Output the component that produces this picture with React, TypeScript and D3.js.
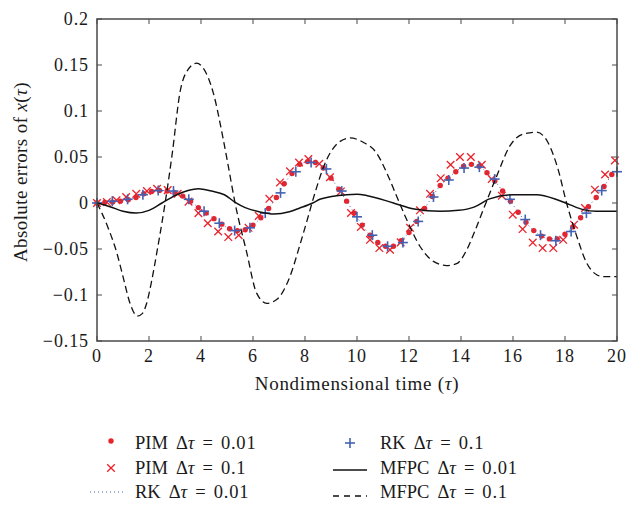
import React from "react";
import * as d3 from "d3";

// ---- axis ticks ----
const xTicks = [0, 2, 4, 6, 8, 10, 12, 14, 16, 18, 20];
const yTicks = [-0.15, -0.1, -0.05, 0, 0.05, 0.1, 0.15, 0.2];
const yTickLabels = ["\u22120.15", "\u22120.1", "\u22120.05", "0", "0.05", "0.1", "0.15", "0.2"];

// ---- PIM Δτ = 0.01 (dots), sampled every 0.3 ----
const pimFineStep = 0.3;
const pimFine = [
  0, 0.0005, 0.001, 0.002, 0.0035, 0.006, 0.01, 0.0125, 0.0137, 0.013,
  0.011, 0.0075, 0.002, -0.005, -0.011, -0.017, -0.023, -0.028, -0.03, -0.029,
  -0.024, -0.016, -0.006, 0.006, 0.021, 0.032, 0.042, 0.045, 0.044, 0.038,
  0.027, 0.015, 0.002, -0.011, -0.024, -0.035, -0.043, -0.047, -0.047, -0.041,
  -0.032, -0.02, -0.006, 0.007, 0.019, 0.027, 0.034, 0.04, 0.042, 0.04,
  0.033, 0.024, 0.013, 0.002, -0.01, -0.021, -0.03, -0.036, -0.039, -0.039,
  -0.034, -0.026, -0.016, -0.004, 0.006, 0.018, 0.031,
];

// ---- RK Δτ = 0.01 (dotted line) coincides with the fine solution ----
const rkFine = pimFine;

// ---- PIM Δτ = 0.1 (crosses) ----
const pimCoarseTau = [
  0, 0.38, 0.75, 1.12, 1.51, 1.92, 2.31, 2.72, 3.1, 3.52, 3.9, 4.26, 4.66, 5.05, 5.45,
  5.83, 6.22, 6.63, 7.04, 7.42, 7.77, 8.13, 8.55, 8.96, 9.38, 9.77, 10.15, 10.5,
  10.86, 11.27, 11.68, 12.04, 12.42, 12.81, 13.22, 13.6, 13.96, 14.38, 14.8, 15.18,
  15.57, 15.99, 16.37, 16.76, 17.14, 17.55, 17.93, 18.35, 18.77, 19.15, 19.54, 19.92,
];
const pimCoarse = [
  0, 0.001, 0.003, 0.0065, 0.01, 0.013, 0.0155, 0.014, 0.01, 0.0015, -0.011, -0.022,
  -0.031, -0.037, -0.035, -0.027, -0.014, 0.0045, 0.0224, 0.0344, 0.044, 0.0478,
  0.0427, 0.028, 0.0126, -0.0109, -0.026, -0.04, -0.049, -0.0508, -0.0428, -0.027,
  -0.008, 0.01, 0.027, 0.0416, 0.05, 0.05, 0.0416, 0.026, 0.008, -0.0127, -0.0283,
  -0.043, -0.049, -0.049, -0.04, -0.0236, -0.0054, 0.0145, 0.031, 0.0463,
];

// ---- RK Δτ = 0.1 (plus markers), 35 markers over [0, 20] ----
const rkCoarseStep = 20 / 34;
const rkCoarse = [
  0, 0.002, 0.004, 0.009, 0.0135, 0.013, 0.004, -0.009, -0.022, -0.03, -0.027, -0.011,
  0.011, 0.034, 0.044, 0.037, 0.013, -0.015, -0.035, -0.047, -0.043, -0.02, 0.0065,
  0.025, 0.038, 0.039, 0.026, 0.004, -0.018, -0.035, -0.041, -0.031, -0.011, 0.0135,
  0.034,
];

// ---- MFPC Δτ = 0.01 (solid) ----
const mfpcFineTau = [
  0, 0.5, 1, 1.5, 2, 2.5, 3, 3.5, 3.9, 4.4, 4.9, 5.3, 5.7, 6.3, 6.8, 7.4, 7.8, 8.3,
  8.6, 9.6, 10, 10.4, 11.4, 12.2, 13.2, 13.9, 14.5, 15.1, 16, 16.9, 17.7, 18.2, 18.7,
  19.2, 20,
];
const mfpcFine = [
  0, -0.004, -0.009, -0.011, -0.008, 0, 0.008, 0.0135, 0.0155, 0.013, 0.009, 0.001,
  -0.005, -0.01, -0.012, -0.0095, -0.0055, 0, 0.0043, 0.009, 0.0095, 0.008, 0,
  -0.0065, -0.009, -0.008, -0.0045, 0.0045, 0.009, 0.009, 0.0036, -0.002, -0.0072,
  -0.009, -0.009,
];

// ---- MFPC Δτ = 0.1 (dashed) ----
const mfpcCoarseTau = [
  0, 0.4, 0.76, 1, 1.27, 1.55, 1.75, 1.91, 2.1, 2.3, 2.62, 2.9, 3.19, 3.5, 3.83, 4.1,
  4.47, 4.85, 5.05, 5.31, 5.76, 6.14, 6.53, 6.91, 7.42, 7.81, 8.07, 8.32, 8.83, 9.35,
  9.73, 10.24, 10.76, 11.14, 11.53, 11.91, 12.42, 12.94, 13.45, 13.83, 14.22, 14.54,
  14.86, 15.37, 15.88, 16.4, 16.91, 17.36, 17.74, 18.06, 18.45, 18.83, 19.22, 19.47, 20,
];
const mfpcCoarse = [
  0, -0.025, -0.054, -0.08, -0.109, -0.123, -0.12, -0.109, -0.085, -0.054, 0, 0.055,
  0.12, 0.145, 0.152, 0.146, 0.12, 0.07, 0.04, 0, -0.054, -0.098, -0.109, -0.105,
  -0.08, -0.045, -0.02, 0.005, 0.047, 0.067, 0.0707, 0.066, 0.054, 0.033, 0.007,
  -0.018, -0.047, -0.0635, -0.068, -0.066, -0.051, -0.03, -0.007, 0.029, 0.062,
  0.075, 0.077, 0.065, 0.036, 0, -0.036, -0.065, -0.078, -0.08, -0.08,
];

// ---- legend ----
const legendMethods = ["PIM", "PIM", "RK", "RK", "MFPC", "MFPC"];
const legendSteps = ["0.01", "0.1", "0.01", "0.1", "0.01", "0.1"];

const RED = "#e8232b";
const BLUE = "#4362b3";
const INK = "#1a1a1a";
const FONT = "'Liberation Serif', 'Times New Roman', serif";

const W = 628;
const H = 505;
const M = { left: 97, right: 617, top: 19, bottom: 341 };

function Tau() {
  return <tspan fontStyle="italic">τ</tspan>;
}

function Cross({ cx, cy, s }: { cx: number; cy: number; s: number }) {
  return (
    <g stroke={RED} strokeWidth={1.3}>
      <line x1={cx - s} y1={cy - s} x2={cx + s} y2={cy + s} />
      <line x1={cx - s} y1={cy + s} x2={cx + s} y2={cy - s} />
    </g>
  );
}

function Plus({ cx, cy, s }: { cx: number; cy: number; s: number }) {
  return (
    <g stroke={BLUE} strokeWidth={1.6}>
      <line x1={cx - s} y1={cy} x2={cx + s} y2={cy} />
      <line x1={cx} y1={cy - s} x2={cx} y2={cy + s} />
    </g>
  );
}

function LegendText({ x, y, i }: { x: number; y: number; i: number }) {
  return (
    <text x={x} y={y} fontSize={18.5} fill={INK}>
      {legendMethods[i]}
      <tspan dx={8}>Δ</tspan>
      <tspan fontStyle="italic">τ</tspan>
      <tspan dx={8}>=</tspan>
      <tspan dx={8} letterSpacing={0.8}>
        {legendSteps[i]}
      </tspan>
    </text>
  );
}

export default function App() {
  const x = d3.scaleLinear().domain([0, 20]).range([M.left, M.right]);
  const y = d3.scaleLinear().domain([-0.15, 0.2]).range([M.bottom, M.top]);

  const line = d3
    .line<[number, number]>()
    .x((d) => x(d[0]))
    .y((d) => y(d[1]))
    .curve(d3.curveMonotoneX);

  const pimFinePts: [number, number][] = pimFine.map((v, i) => [i * pimFineStep, v]);
  const rkFinePts: [number, number][] = rkFine.map((v, i) => [i * pimFineStep, v]);
  const rkCoarsePts: [number, number][] = rkCoarse.map((v, i) => [i * rkCoarseStep, v]);
  const pimCoarsePts: [number, number][] = pimCoarse.map((v, i) => [pimCoarseTau[i], v]);
  const mfpcFinePts: [number, number][] = mfpcFine.map((v, i) => [mfpcFineTau[i], v]);
  const mfpcCoarsePts: [number, number][] = mfpcCoarse.map((v, i) => [mfpcCoarseTau[i], v]);

  const axisColor = "#4a4a4a";
  const tickLen = 5;

  return (
    <svg
      width={W}
      height={H}
      style={{ position: "absolute", left: 0, top: 0, background: "#fff" }}
      fontFamily={FONT}
    >
      <rect x={0} y={0} width={W} height={H} fill="#fff" />

      {/* ticks */}
      <g stroke={axisColor} strokeWidth={1}>
        {xTicks.map((t) => (
          <g key={"xt" + t}>
            <line x1={x(t)} x2={x(t)} y1={M.bottom} y2={M.bottom - tickLen} />
            <line x1={x(t)} x2={x(t)} y1={M.top} y2={M.top + tickLen} />
          </g>
        ))}
        {yTicks.map((t) => (
          <g key={"yt" + t}>
            <line x1={M.left} x2={M.left + tickLen} y1={y(t)} y2={y(t)} />
            <line x1={M.right} x2={M.right - tickLen} y1={y(t)} y2={y(t)} />
          </g>
        ))}
      </g>

      {/* tick labels */}
      <g fontSize={18} fill={INK} letterSpacing={0.9}>
        {xTicks.map((t) => (
          <text key={"xl" + t} x={x(t)} y={362} textAnchor="middle">
            {t}
          </text>
        ))}
        {yTicks.map((t, i) => (
          <text key={"yl" + t} x={89} y={y(t) + 6} textAnchor="end">
            {yTickLabels[i]}
          </text>
        ))}
      </g>

      {/* axis titles */}
      <text x={357} y={390} textAnchor="middle" fontSize={19} letterSpacing={0.7} fill={INK}>
        Nondimensional time (<Tau />)
      </text>
      <text
        transform={`translate(27,172) rotate(-90)`}
        textAnchor="middle"
        fontSize={19}
        letterSpacing={0.4}
        fill={INK}
      >
        Absolute errors of <tspan fontStyle="italic">x</tspan>(<Tau />)
      </text>

      {/* series, in legend order */}
      <g>
        {pimFinePts.map((d, i) => (
          <circle key={"pf" + i} cx={x(d[0])} cy={y(d[1])} r={2.7} fill={RED} />
        ))}
      </g>
      <g>
        {pimCoarsePts.map((d, i) => (
          <Cross key={"pc" + i} cx={x(d[0])} cy={y(d[1])} s={3.8} />
        ))}
      </g>
      <path
        d={line(rkFinePts) || ""}
        fill="none"
        stroke={BLUE}
        strokeWidth={1}
        strokeDasharray="1,3"
      />
      <g>
        {rkCoarsePts.map((d, i) => (
          <Plus key={"rc" + i} cx={x(d[0])} cy={y(d[1])} s={5} />
        ))}
      </g>
      <path d={line(mfpcFinePts) || ""} fill="none" stroke="#111" strokeWidth={1.5} />
      <path
        d={line(mfpcCoarsePts) || ""}
        fill="none"
        stroke="#111"
        strokeWidth={1.3}
        strokeDasharray="7,4"
      />

      {/* frame */}
      <rect
        x={M.left}
        y={M.top}
        width={M.right - M.left}
        height={M.bottom - M.top}
        fill="none"
        stroke={axisColor}
        strokeWidth={1.5}
      />

      {/* legend */}
      <g>
        <circle cx={111} cy={441} r={2.7} fill={RED} />
        <LegendText x={135} y={449} i={0} />
        <Cross cx={111} cy={468} s={3.8} />
        <LegendText x={135} y={474} i={1} />
        <line x1={90} x2={124} y1={492} y2={492} stroke={BLUE} strokeWidth={1} strokeDasharray="1,3" />
        <LegendText x={135} y={498} i={2} />

        <Plus cx={350} cy={443} s={5} />
        <LegendText x={380} y={449} i={3} />
        <line x1={333} x2={367} y1={470} y2={470} stroke="#111" strokeWidth={1.5} />
        <LegendText x={380} y={474} i={4} />
        <line x1={333} x2={367} y1={496} y2={496} stroke="#111" strokeWidth={1.3} strokeDasharray="6,5" />
        <LegendText x={380} y={498} i={5} />
      </g>
    </svg>
  );
}
